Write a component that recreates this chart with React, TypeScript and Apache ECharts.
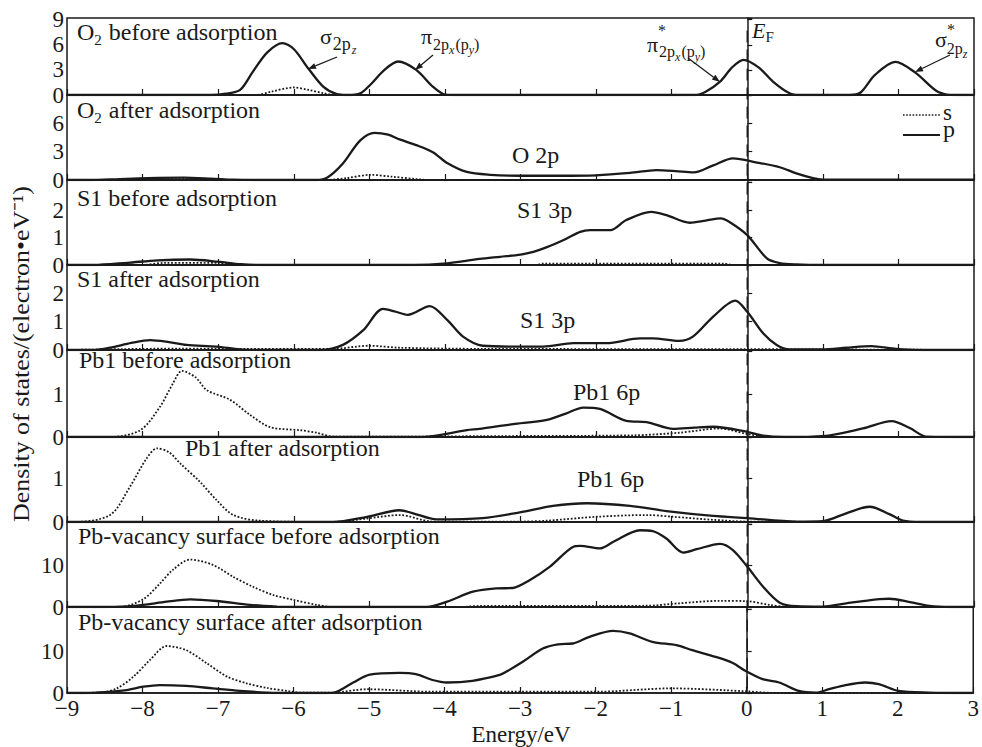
import React, { useEffect, useRef } from "react";
import * as echarts from "echarts";

// ---------- data: [energy (eV), DOS] ----------
const energyTicks = [-9, -8, -7, -6, -5, -4, -3, -2, -1, 0, 1, 2, 3];
const fermiLevel = 0;

const o2BeforeS = [[-9,0],[-6.5,0],[-6.3,0.4],[-6.0,0.9],[-5.8,0.6],[-5.6,0.2],[-5.45,0],[3,0]];
const o2BeforeP = [[-9,0],[-7.1,0],[-6.9,0.15],[-6.71,0.6],[-6.54,2.8],[-6.35,5.1],[-6.15,6.2],[-6.0,5.5],[-5.81,3.2],[-5.61,1.0],[-5.43,0.1],[-5.3,0],[-5.12,0.2],[-4.99,1.2],[-4.8,3.0],[-4.62,4.0],[-4.38,3.0],[-4.16,1.0],[-4.0,0.05],[-3.9,0],[-0.7,0],[-0.55,0.4],[-0.36,1.6],[-0.2,3.3],[-0.05,4.2],[0.15,3.3],[0.34,1.6],[0.56,0.2],[0.7,0],[1.35,0],[1.5,0.3],[1.69,2.4],[1.96,3.95],[2.22,2.7],[2.5,0.5],[2.64,0.05],[2.75,0],[3,0]];

const o2AfterS = [[-9,0],[-8.2,0],[-7.8,0.1],[-7.2,0.1],[-6.9,0],[-5.6,0],[-5.3,0.2],[-4.99,0.55],[-4.7,0.35],[-4.38,0.1],[-4.2,0],[3,0]];
const o2AfterP = [[-9,0],[-8.7,0],[-8.3,0.1],[-7.8,0.22],[-7.46,0.25],[-7.1,0.15],[-6.8,0.03],[-6.5,0],[-5.7,0],[-5.55,0.3],[-5.35,1.75],[-5.12,4.2],[-4.93,5.0],[-4.75,4.8],[-4.6,4.3],[-4.38,3.7],[-4.16,2.95],[-3.97,1.8],[-3.71,0.85],[-3.4,0.55],[-3.0,0.45],[-2.5,0.45],[-2.0,0.5],[-1.55,0.75],[-1.2,1.05],[-0.95,0.95],[-0.71,0.8],[-0.45,1.55],[-0.19,2.3],[0.13,1.85],[0.43,1.35],[0.65,0.7],[0.87,0.2],[1.0,0.05],[3,0.05]];

const s1BeforeS = [[-9,0],[-8.0,0],[-7.7,0.08],[-7.0,0.08],[-6.8,0],[-2.8,0],[-2.7,0.05],[-0.3,0.05],[-0.2,0],[3,0]];
const s1BeforeP = [[-9,0],[-8.65,0],[-8.2,0.08],[-7.8,0.17],[-7.37,0.2],[-7.0,0.12],[-6.7,0.03],[-6.4,0],[-4.4,0],[-4.02,0.05],[-3.54,0.22],[-3.27,0.3],[-3.0,0.38],[-2.83,0.48],[-2.65,0.65],[-2.4,0.95],[-2.21,1.21],[-2.08,1.27],[-1.81,1.27],[-1.6,1.64],[-1.27,1.94],[-1.07,1.82],[-0.76,1.54],[-0.55,1.62],[-0.35,1.7],[-0.23,1.56],[0.0,1.09],[0.26,0.24],[0.43,0.07],[0.65,0.02],[1.0,0],[3,0]];

const s1AfterS = [[-9,0],[-8.3,0.03],[-7.5,0.05],[-6.8,0.04],[-5.5,0.04],[-5.0,0.15],[-4.6,0.08],[-3.5,0.04],[0,0.03],[3,0]];
const s1AfterP = [[-9,0],[-8.65,0],[-8.43,0.08],[-8.15,0.25],[-7.9,0.35],[-7.65,0.28],[-7.42,0.18],[-7.02,0.12],[-6.71,0.02],[-6.4,0],[-5.65,0],[-5.35,0.18],[-5.08,0.7],[-4.82,1.45],[-4.65,1.35],[-4.49,1.24],[-4.2,1.55],[-3.97,1.06],[-3.76,0.47],[-3.5,0.15],[-3.01,0.12],[-2.7,0.12],[-2.3,0.24],[-1.86,0.24],[-1.42,0.41],[-1.25,0.41],[-0.9,0.32],[-0.72,0.47],[-0.45,1.18],[-0.16,1.74],[0.0,1.35],[0.21,0.59],[0.39,0.18],[0.56,0.02],[1.0,0.02],[1.31,0.08],[1.64,0.14],[1.97,0.04],[2.3,0],[3,0]];

const pb1BeforeS = [[-9,0],[-8.43,0],[-8.03,0.16],[-7.77,0.71],[-7.6,1.25],[-7.48,1.55],[-7.3,1.4],[-7.15,1.1],[-6.84,0.87],[-6.58,0.52],[-6.31,0.23],[-5.92,0.16],[-5.7,0.1],[-5.48,0.01],[-4.5,0.01],[-3.5,0.02],[-1.5,0.04],[-0.9,0.1],[-0.36,0.2],[0,0.07],[0.3,0],[3,0]];
const pb1BeforeP = [[-9,0],[-4.29,0],[-3.71,0.16],[-3.54,0.19],[-3.27,0.26],[-3.1,0.3],[-2.65,0.4],[-2.4,0.55],[-2.17,0.69],[-1.95,0.66],[-1.6,0.38],[-1.33,0.35],[-0.98,0.19],[-0.7,0.22],[-0.45,0.24],[0,0.12],[0.21,0.03],[0.5,0],[1.0,0.02],[1.53,0.2],[1.91,0.37],[2.15,0.21],[2.37,0.01],[3,0]];

const pb1AfterS = [[-9,0],[-8.92,0],[-8.43,0.16],[-8.17,0.8],[-7.95,1.45],[-7.81,1.69],[-7.65,1.6],[-7.5,1.34],[-7.24,0.92],[-7.02,0.5],[-6.8,0.16],[-6.45,0.03],[-5.5,0],[-5.03,0.08],[-4.6,0.16],[-4.16,0.01],[-3.0,0.01],[-2.65,0.03],[-1.99,0.12],[-1.33,0.16],[-0.98,0.12],[-0.45,0.05],[0,0.01],[3,0]];
const pb1AfterP = [[-9,0],[-5.48,0],[-5.03,0.12],[-4.6,0.27],[-4.42,0.2],[-4.11,0.06],[-3.5,0.09],[-3.01,0.22],[-2.57,0.37],[-2.12,0.43],[-1.55,0.37],[-1.07,0.25],[-0.45,0.14],[0,0.09],[0.65,0.01],[1.0,0.02],[1.31,0.2],[1.62,0.35],[1.88,0.18],[2.06,0.03],[2.3,0],[3,0]];

const vacBeforeS = [[-9,0],[-8.3,0],[-7.99,1.9],[-7.77,5.7],[-7.6,9.0],[-7.37,11.5],[-7.07,10.2],[-6.8,7.3],[-6.54,4.9],[-6.27,2.9],[-6.0,1.7],[-5.69,0.5],[-5.48,0],[-3.8,0],[-3.54,0.25],[-1.33,0.3],[-0.9,0.9],[-0.36,1.5],[0,1.4],[0.3,0.5],[0.52,0.05],[0.7,0],[3,0]];
const vacBeforeP = [[-9,0],[-8.56,0],[-8.2,0.15],[-7.99,0.5],[-7.68,1.3],[-7.37,1.85],[-7.02,1.45],[-6.58,0.5],[-6.22,0.1],[-6.0,0],[-4.24,0],[-3.97,1.3],[-3.63,3.7],[-3.32,4.5],[-3.1,4.6],[-2.88,6.5],[-2.61,9.8],[-2.3,14.6],[-2.21,14.8],[-1.95,14.2],[-1.77,15.8],[-1.42,18.6],[-1.25,18.4],[-1.07,16.6],[-0.85,13.2],[-0.67,14.0],[-0.36,15.3],[-0.19,13.8],[0,9.8],[0.21,4.9],[0.43,1.05],[0.65,0.2],[1.0,0.1],[1.31,0.9],[1.75,1.9],[1.88,2.0],[2.15,1.2],[2.41,0.25],[2.7,0],[3,0]];

const vacAfterS = [[-9,0],[-8.7,0.05],[-8.56,0.1],[-8.34,1.1],[-8.12,3.9],[-7.9,7.9],[-7.68,11.2],[-7.42,10.2],[-7.15,7.1],[-6.88,3.9],[-6.62,2.3],[-6.35,1.2],[-6.05,0.4],[-5.92,0.1],[-5.48,0.1],[-5.03,0.9],[-4.16,0.3],[-2.0,0.3],[-1.0,1.1],[0,0.4],[0.3,0.05],[0.6,0],[3,0]];
const vacAfterP = [[-9,0],[-8.78,0],[-8.5,0.2],[-8.21,0.7],[-7.99,1.5],[-7.77,1.9],[-7.42,1.7],[-7.07,1.1],[-6.71,0.5],[-6.35,0.1],[-6.0,0],[-5.56,0],[-5.43,0.3],[-5.21,2.5],[-4.99,4.4],[-4.6,4.8],[-4.38,4.5],[-4.16,3.1],[-3.97,2.5],[-3.63,2.9],[-3.27,4.3],[-3.18,5.1],[-2.96,7.5],[-2.7,10.6],[-2.5,11.6],[-2.3,11.8],[-2.08,13.4],[-1.77,14.8],[-1.55,14.2],[-1.25,12.2],[-0.93,11.4],[-0.72,10.2],[-0.41,8.6],[-0.19,7.2],[0,5.1],[0.21,3.3],[0.43,2.5],[0.69,0.5],[0.92,0.1],[1.09,0.9],[1.31,1.9],[1.57,2.5],[1.75,2.1],[2.01,0.5],[2.41,0.1],[3,0]];

// y tick labels per panel
const yLabels1 = [0, 3, 6, 9];
const yLabels2 = [0, 3, 6];
const yLabels3 = [0, 1, 2];
const yLabels4 = [0, 1, 2];
const yLabels5 = [0, 1];
const yLabels6 = [0, 1];
const yLabels7 = [0, 10];
const yLabels8 = [0, 10];

// ---------- layout ----------
const SERIF = "'Liberation Serif', 'Times New Roman', Times, serif";
const INK = "#1a1a1a";
const LEFT = 67;
const WIDTH = 907;

const PANELS = [
  { top: 18, height: 77, max: 9.2, interval: 3, labels: yLabels1, s: o2BeforeS, p: o2BeforeP },
  { top: 95, height: 85, max: 9, interval: 3, labels: yLabels2, s: o2AfterS, p: o2AfterP },
  { top: 180, height: 85, max: 3.1, interval: 1, labels: yLabels3, s: s1BeforeS, p: s1BeforeP },
  { top: 265, height: 85, max: 3, interval: 1, labels: yLabels4, s: s1AfterS, p: s1AfterP },
  { top: 350, height: 87, max: 2.04, interval: 1, labels: yLabels5, s: pb1BeforeS, p: pb1BeforeP },
  { top: 437, height: 85, max: 1.95, interval: 1, labels: yLabels6, s: pb1AfterS, p: pb1AfterP },
  { top: 522, height: 85, max: 20.6, interval: 10, labels: yLabels7, s: vacBeforeS, p: vacBeforeP },
  { top: 607, height: 86, max: 20.5, interval: 10, labels: yLabels8, s: vacAfterS, p: vacAfterP },
];

// plain text, positioned by baseline
function T(x: number, base: number, text: string, fs: number, opt: any = {}) {
  return {
    type: "text", x, y: base - 0.34 * fs, silent: true, z: 100,
    style: {
      text, fontSize: fs, fontFamily: SERIF, fontStyle: opt.italic ? "italic" : "normal", fill: INK,
      align: opt.align ?? "left", verticalAlign: "middle",
      textAlign: opt.align ?? "left", textVerticalAlign: "middle",
    },
  };
}

// rich text: lines of tokens {t, fs, dy (offset from line top), it, padL, lh}
type Tok = { t: string; fs: number; dy?: number; it?: boolean; padL?: number; lh?: number };
function R(x: number, top: number, lines: Tok[][]) {
  const rich: any = {};
  let k = 0;
  const text = lines
    .map((line) =>
      line
        .map((tk) => {
          const name = "r" + k++;
          const st: any = {
            fontSize: tk.fs, fontFamily: SERIF, fontStyle: tk.it ? "italic" : "normal", fill: INK,
            height: tk.fs, verticalAlign: "top", align: "left",
            padding: [tk.dy ?? 0, 0, 0, tk.padL ?? 0],
          };
          if (tk.lh != null) st.lineHeight = tk.lh;
          rich[name] = st;
          return "{" + name + "|" + tk.t + "}";
        })
        .join("")
    )
    .join("\n");
  return {
    type: "text", x, y: top, silent: true, z: 100,
    style: {
      text, rich, fontFamily: SERIF, fill: INK,
      align: "left", verticalAlign: "top", textAlign: "left", textVerticalAlign: "top",
    },
  };
}

function arrow(x1: number, y1: number, x2: number, y2: number) {
  const dx = x2 - x1, dy = y2 - y1;
  const L = Math.hypot(dx, dy);
  const ux = dx / L, uy = dy / L;
  const hl = 8, hw = 3;
  const bx = x2 - ux * hl, by = y2 - uy * hl;
  return [
    { type: "line", silent: true, z: 100, shape: { x1, y1, x2: bx, y2: by }, style: { stroke: INK, lineWidth: 1.3 } },
    {
      type: "polygon", silent: true, z: 100,
      shape: { points: [[x2, y2], [bx - uy * hw, by + ux * hw], [bx + uy * hw, by - ux * hw]] },
      style: { fill: INK },
    },
  ];
}

function buildGraphic(fx: number, fyTop: number, fyBottom: number) {
  const els: any[] = [];
  // Fermi level dashed line
  els.push({
    type: "line", silent: true, z: 50,
    shape: { x1: fx, y1: fyTop, x2: fx, y2: fyBottom },
    style: { stroke: INK, lineWidth: 1.4, lineDash: [12, 7] },
  });
  // panel titles (O2 with subscript)
  els.push(R(77, 19.9, [[{ t: "O", fs: 24 }, { t: "2", fs: 15, dy: 12.5 }, { t: "before adsorption", fs: 24, padL: 7 }]]));
  els.push(R(77, 97.9, [[{ t: "O", fs: 24 }, { t: "2", fs: 15, dy: 12.5 }, { t: "after adsorption", fs: 24, padL: 7 }]]));
  els.push(T(77, 206, "S1 before adsorption", 24));
  els.push(T(77, 287, "S1 after adsorption", 24));
  els.push(T(79, 368, "Pb1 before adsorption", 24));
  els.push(T(185, 456, "Pb1 after adsorption", 24));
  els.push(T(78, 544, "Pb-vacancy surface before adsorption", 24));
  els.push(T(78, 630, "Pb-vacancy surface after adsorption", 24));
  // orbital labels
  els.push(T(512, 163, "O 2p", 24));
  els.push(T(517, 218, "S1 3p", 24));
  els.push(T(520, 328, "S1 3p", 24));
  els.push(T(573, 400, "Pb1 6p", 24));
  els.push(T(577, 487, "Pb1 6p", 24));
  // sigma 2pz
  els.push(R(320, 25.5, [[{ t: "σ", fs: 22 }, { t: "2p", fs: 18, dy: 9.4, padL: 1 }, { t: "z", fs: 12, it: true, dy: 18.4, padL: 1 }]]));
  els.push(...arrow(337, 57, 308, 69));
  // pi 2px(py)
  els.push(R(421, 25.5, [[
    { t: "π", fs: 22 }, { t: "2p", fs: 16, dy: 11.1, padL: 1 }, { t: "x", fs: 12, it: true, dy: 18.4 },
    { t: "(p", fs: 16, dy: 11.1, padL: 1 }, { t: "y", fs: 12, it: true, dy: 18.4 }, { t: ")", fs: 16, dy: 11.1 },
  ]]));
  els.push(...arrow(433, 55, 415, 70));
  // pi* 2px(py)
  els.push(R(647, 22.6, [
    [{ t: "*", fs: 16, lh: 11, padL: 11 }],
    [
      { t: "π", fs: 22 }, { t: "2p", fs: 16, dy: 10, padL: 1 }, { t: "x", fs: 12, it: true, dy: 17.4 },
      { t: "(p", fs: 16, dy: 10, padL: 1 }, { t: "y", fs: 12, it: true, dy: 17.4 }, { t: ")", fs: 16, dy: 10 },
    ],
  ]));
  els.push(...arrow(688, 58, 720, 82));
  // E_F
  els.push(R(752, 19.6, [[{ t: "E", fs: 22, it: true }, { t: "F", fs: 15, dy: 9.8 }]]));
  // sigma* 2pz
  els.push(R(935, 21.6, [
    [{ t: "*", fs: 16, lh: 7, padL: 12 }],
    [{ t: "σ", fs: 22 }, { t: "2p", fs: 16, dy: 12 }, { t: "z", fs: 12, it: true, dy: 19.3 }],
  ]));
  els.push(...arrow(950, 55, 915, 72));
  // legend
  els.push({ type: "line", silent: true, shape: { x1: 903, y1: 115, x2: 940, y2: 115 }, style: { stroke: INK, lineWidth: 1.6, lineDash: [1.6, 1.6] } });
  els.push({ type: "line", silent: true, shape: { x1: 903, y1: 135, x2: 940, y2: 135 }, style: { stroke: INK, lineWidth: 1.8 } });
  els.push(R(943, 100.7, [[{ t: "s", fs: 23, lh: 16.2 }], [{ t: "p", fs: 24 }]]));
  // axis titles
  els.push(T(521, 742, "Energy/eV", 23, { align: "center" }));
  els.push({
    type: "text", x: 21, y: 354, rotation: Math.PI / 2, scaleX: 1.08, silent: true,
    style: {
      text: "Density of states/(electron•eV⁻¹)", fontSize: 24, fontFamily: SERIF, fill: INK,
      align: "center", verticalAlign: "middle", textAlign: "center", textVerticalAlign: "middle",
    },
  });
  return els;
}

function buildOption() {
  const minus = (v: number) => (v < 0 ? "\u2212" + Math.abs(v) : String(v));
  return {
    animation: false,
    backgroundColor: "#ffffff",
    grid: PANELS.map((p) => ({
      left: LEFT, width: WIDTH, top: p.top, height: p.height,
      show: true, borderColor: INK, borderWidth: 1.5, backgroundColor: "transparent",
    })),
    xAxis: PANELS.map((p, i) => ({
      type: "value", gridIndex: i, min: energyTicks[0], max: energyTicks[energyTicks.length - 1], interval: 1,
      axisLine: { show: true, onZero: false, lineStyle: { color: INK, width: 1.5 } },
      axisTick: { show: true, inside: true, length: 6, lineStyle: { color: INK, width: 1.2 } },
      splitLine: { show: false },
      axisLabel: {
        show: i === PANELS.length - 1, formatter: minus, fontSize: 23, fontFamily: SERIF, color: INK,
        margin: 7, lineHeight: 16, showMinLabel: true, showMaxLabel: true,
      },
    })),
    yAxis: PANELS.map((p, i) => ({
      type: "value", gridIndex: i, min: 0, max: p.max, interval: p.interval,
      axisLine: { show: true, lineStyle: { color: INK, width: 1.5 } },
      axisTick: { show: true, inside: true, length: 5, lineStyle: { color: INK, width: 1.2 } },
      splitLine: { show: false },
      axisLabel: {
        formatter: (v: number) => (p.labels.indexOf(v) >= 0 ? String(v) : ""),
        fontSize: 23, fontFamily: SERIF, color: INK, margin: 3, lineHeight: 16,
        showMinLabel: true, showMaxLabel: true,
      },
    })),
    series: PANELS.flatMap((p, i) => [
      {
        type: "line", name: "s", xAxisIndex: i, yAxisIndex: i, data: p.s,
        symbol: "none", showSymbol: false, smooth: 0.3, silent: true, z: 2,
        lineStyle: { color: INK, width: 1.8, type: [1.8, 1.8] },
      },
      {
        type: "line", name: "p", xAxisIndex: i, yAxisIndex: i, data: p.p,
        symbol: "none", showSymbol: false, smooth: 0.3, silent: true, z: 3,
        lineStyle: { color: INK, width: 2.3 },
      },
    ]),
  };
}

export default function App() {
  const ref = useRef<HTMLDivElement>(null);
  useEffect(() => {
    if (!ref.current) return;
    const chart = echarts.init(ref.current, undefined, { renderer: "svg" });
    chart.setOption(buildOption() as any);
    const fx = chart.convertToPixel({ xAxisIndex: 0 }, fermiLevel) as number;
    const fyTop = chart.convertToPixel({ yAxisIndex: 0 }, 7.7) as number;
    const fyBottom = chart.convertToPixel({ yAxisIndex: PANELS.length - 1 }, 0) as number;
    chart.setOption({ graphic: { elements: buildGraphic(fx, fyTop, fyBottom) } } as any);
    return () => chart.dispose();
  }, []);
  return (
    <div
      ref={ref}
      style={{ position: "absolute", left: 0, top: 0, width: 982, height: 747, background: "#fff" }}
    />
  );
}
